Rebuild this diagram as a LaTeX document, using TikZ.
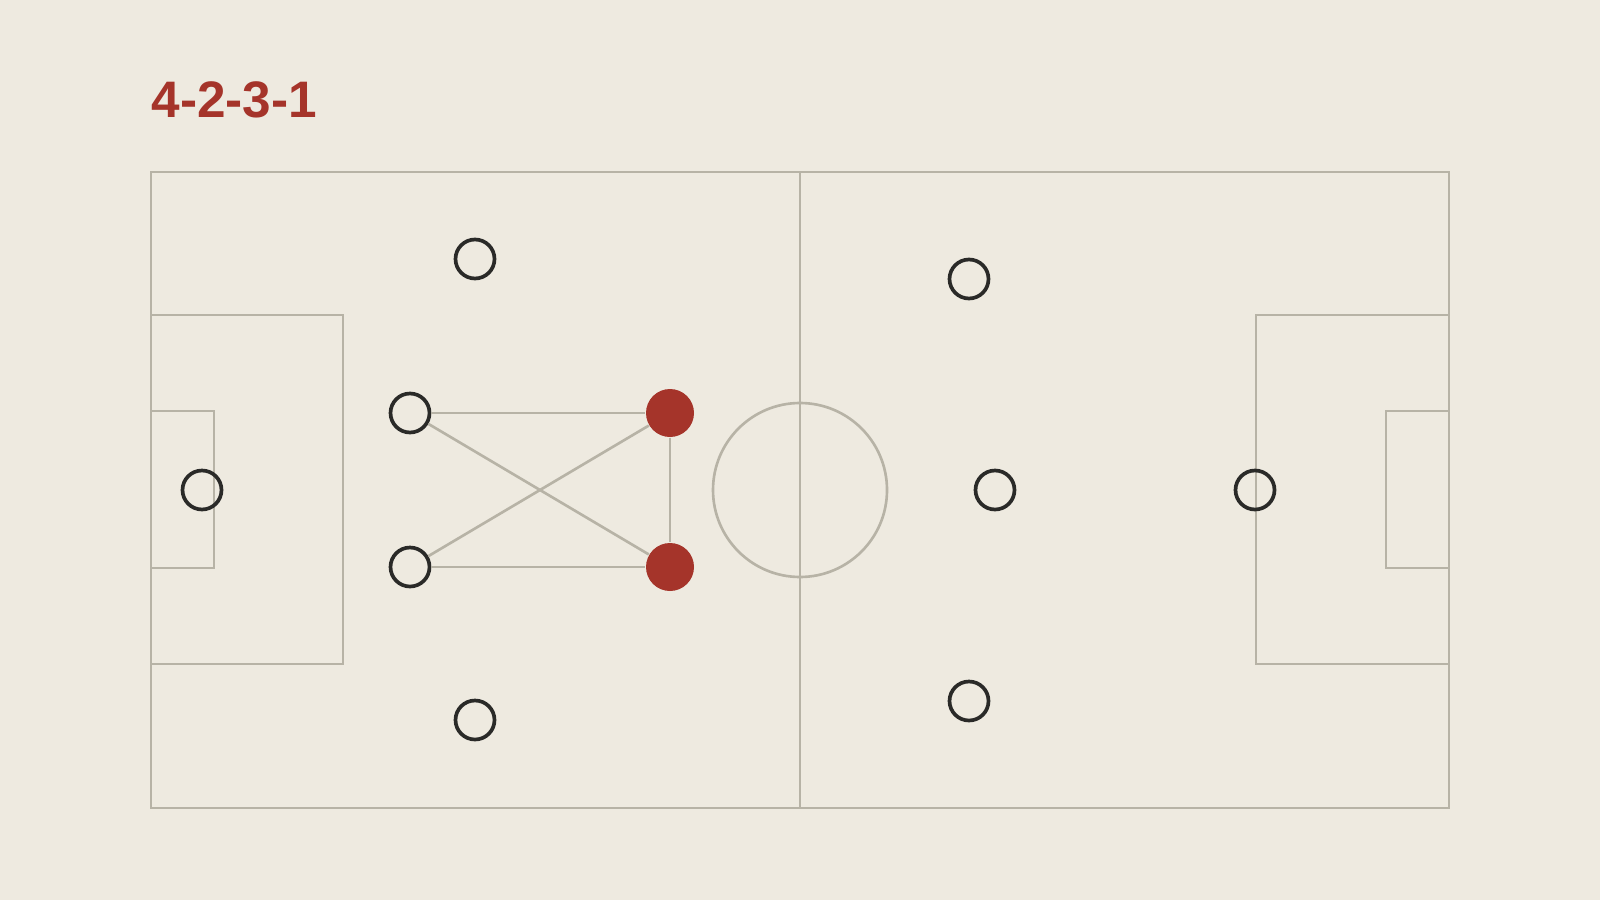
\documentclass[tikz,border=0pt]{standalone}
\usepackage{fontspec}
\setmainfont{Liberation Sans}
\usetikzlibrary{positioning}
\definecolor{turf}{HTML}{EEEAE0}
\definecolor{chalk}{HTML}{B7B3A6}
\definecolor{pivot}{HTML}{A5342A}
\definecolor{shirt}{HTML}{2A2A28}

\begin{document}
\begin{tikzpicture}[
	line/.style={chalk,line width=0.75pt},
	player/.style={circle,draw=shirt,line width=1.05pt,inner sep=0,minimum size=0.39cm},
	anchorman/.style={circle,fill=pivot,inner sep=0,minimum size=0.48cm}]
	\fill[turf] (0,0) rectangle (16,9);
	\useasboundingbox (0,0) rectangle (16,9);
	\node[anchor=base west,text=pivot,font=\fontsize{14.6}{18}\selectfont\bfseries,inner sep=0] (title) at (1.51,7.82) {4-2-3-1};
	% pitch
	\draw[line] (1.51,0.92) rectangle (14.49,7.28);
	\draw[line] (8,0.92) -- (8,7.28);
	\draw[line] (8,4.10) circle (0.87);
	\draw[line] (1.51,5.85) -- (3.43,5.85) -- (3.43,2.36) -- (1.51,2.36);
	\draw[line] (1.51,4.89) -- (2.14,4.89) -- (2.14,3.32) -- (1.51,3.32);
	\draw[line] (14.49,5.85) -- (12.56,5.85) -- (12.56,2.36) -- (14.49,2.36);
	\draw[line] (14.49,4.89) -- (13.86,4.89) -- (13.86,3.32) -- (14.49,3.32);
	% players
	\node[player] (gk) at (2.02,4.10) {};
	\node[player] (lb) at (4.75,6.41) {};
	\node[player] (lcb) at (4.10,4.87) {};
	\node[player] (rcb) at (4.10,3.33) {};
	\node[player] (rb) at (4.75,1.80) {};
	\node[anchorman] (dm1) at (6.70,4.87) {};
	\node[anchorman] (dm2) at (6.70,3.33) {};
	\node[player] (lam) at (9.69,6.21) {};
	\node[player] (cam) at (9.95,4.10) {};
	\node[player] (ram) at (9.69,1.99) {};
	\node[player] (st) at (12.55,4.10) {};
	% links
	\draw[line] (lcb) to (dm1);
	\draw[line] (lcb) to (dm2);
	\draw[line] (rcb) to (dm1);
	\draw[line] (rcb) to (dm2);
	\draw[line] (dm1) to (dm2);
\end{tikzpicture}
\end{document}
